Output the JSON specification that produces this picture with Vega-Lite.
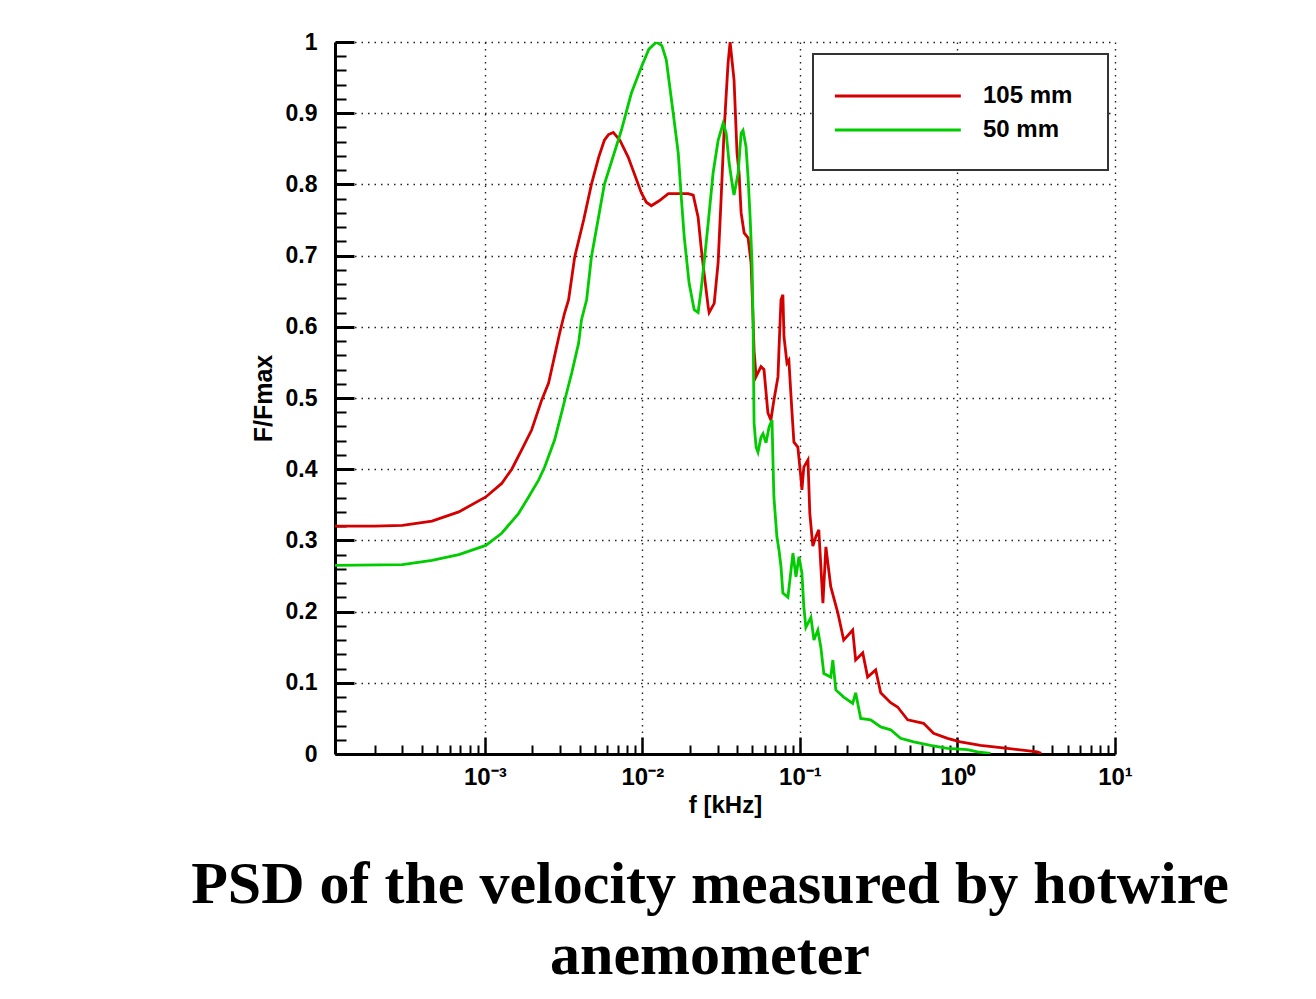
{
  "$schema": "https://vega.github.io/schema/vega-lite/v6.json",
  "width": 780,
  "height": 712,
  "autosize": "none",
  "padding": {"left": 335, "top": 42, "right": 201, "bottom": 245},
  "background": "white",
  "config": {"view": {"stroke": null}, "font": "Liberation Sans"},
  "title": {
    "text": ["PSD of the velocity measured by hotwire", "anemometer"],
    "orient": "bottom",
    "anchor": "middle",
    "font": "Liberation Serif",
    "fontSize": 60,
    "fontWeight": "bold",
    "color": "black",
    "lineHeight": 71,
    "offset": 39,
    "dx": -15
  },
  "datasets": {
    "psd": [
      {"series": "105 mm", "f": 0.000112, "v": 0.320},
      {"series": "105 mm", "f": 0.0002, "v": 0.320},
      {"series": "105 mm", "f": 0.0003, "v": 0.321},
      {"series": "105 mm", "f": 0.000462, "v": 0.327},
      {"series": "105 mm", "f": 0.000684, "v": 0.340},
      {"series": "105 mm", "f": 0.001015, "v": 0.361},
      {"series": "105 mm", "f": 0.00128, "v": 0.380},
      {"series": "105 mm", "f": 0.001483, "v": 0.400},
      {"series": "105 mm", "f": 0.001714, "v": 0.427},
      {"series": "105 mm", "f": 0.001982, "v": 0.455},
      {"series": "105 mm", "f": 0.002296, "v": 0.497},
      {"series": "105 mm", "f": 0.00254, "v": 0.521},
      {"series": "105 mm", "f": 0.002735, "v": 0.553},
      {"series": "105 mm", "f": 0.002985, "v": 0.591},
      {"series": "105 mm", "f": 0.003206, "v": 0.619},
      {"series": "105 mm", "f": 0.003404, "v": 0.638},
      {"series": "105 mm", "f": 0.00372, "v": 0.698},
      {"series": "105 mm", "f": 0.00424, "v": 0.750},
      {"series": "105 mm", "f": 0.00475, "v": 0.800},
      {"series": "105 mm", "f": 0.00528, "v": 0.838},
      {"series": "105 mm", "f": 0.00574, "v": 0.862},
      {"series": "105 mm", "f": 0.0061, "v": 0.870},
      {"series": "105 mm", "f": 0.00654, "v": 0.873},
      {"series": "105 mm", "f": 0.0072, "v": 0.862},
      {"series": "105 mm", "f": 0.00814, "v": 0.838},
      {"series": "105 mm", "f": 0.00986, "v": 0.788},
      {"series": "105 mm", "f": 0.0106, "v": 0.775},
      {"series": "105 mm", "f": 0.0114, "v": 0.770},
      {"series": "105 mm", "f": 0.0128, "v": 0.777},
      {"series": "105 mm", "f": 0.01462, "v": 0.787},
      {"series": "105 mm", "f": 0.01954, "v": 0.787},
      {"series": "105 mm", "f": 0.02104, "v": 0.785},
      {"series": "105 mm", "f": 0.02259, "v": 0.754},
      {"series": "105 mm", "f": 0.0236, "v": 0.712},
      {"series": "105 mm", "f": 0.02466, "v": 0.675},
      {"series": "105 mm", "f": 0.02618, "v": 0.628},
      {"series": "105 mm", "f": 0.02655, "v": 0.620},
      {"series": "105 mm", "f": 0.02858, "v": 0.633},
      {"series": "105 mm", "f": 0.03027, "v": 0.690},
      {"series": "105 mm", "f": 0.03162, "v": 0.780},
      {"series": "105 mm", "f": 0.03304, "v": 0.876},
      {"series": "105 mm", "f": 0.03499, "v": 0.970},
      {"series": "105 mm", "f": 0.03606, "v": 1.000},
      {"series": "105 mm", "f": 0.03819, "v": 0.947},
      {"series": "105 mm", "f": 0.0399, "v": 0.844},
      {"series": "105 mm", "f": 0.04111, "v": 0.816},
      {"series": "105 mm", "f": 0.04236, "v": 0.760},
      {"series": "105 mm", "f": 0.04426, "v": 0.732},
      {"series": "105 mm", "f": 0.04688, "v": 0.725},
      {"series": "105 mm", "f": 0.04898, "v": 0.690},
      {"series": "105 mm", "f": 0.05046, "v": 0.610},
      {"series": "105 mm", "f": 0.05117, "v": 0.567},
      {"series": "105 mm", "f": 0.05272, "v": 0.530},
      {"series": "105 mm", "f": 0.05662, "v": 0.544},
      {"series": "105 mm", "f": 0.05916, "v": 0.540},
      {"series": "105 mm", "f": 0.06266, "v": 0.479},
      {"series": "105 mm", "f": 0.06546, "v": 0.469},
      {"series": "105 mm", "f": 0.06839, "v": 0.497},
      {"series": "105 mm", "f": 0.07261, "v": 0.530},
      {"series": "105 mm", "f": 0.07362, "v": 0.567},
      {"series": "105 mm", "f": 0.07586, "v": 0.638},
      {"series": "105 mm", "f": 0.07798, "v": 0.645},
      {"series": "105 mm", "f": 0.07925, "v": 0.586},
      {"series": "105 mm", "f": 0.08279, "v": 0.549},
      {"series": "105 mm", "f": 0.08511, "v": 0.553},
      {"series": "105 mm", "f": 0.08892, "v": 0.483},
      {"series": "105 mm", "f": 0.09162, "v": 0.438},
      {"series": "105 mm", "f": 0.09705, "v": 0.431},
      {"series": "105 mm", "f": 0.1014, "v": 0.389},
      {"series": "105 mm", "f": 0.1030, "v": 0.371},
      {"series": "105 mm", "f": 0.1059, "v": 0.403},
      {"series": "105 mm", "f": 0.1125, "v": 0.413},
      {"series": "105 mm", "f": 0.1156, "v": 0.338},
      {"series": "105 mm", "f": 0.1208, "v": 0.292},
      {"series": "105 mm", "f": 0.1262, "v": 0.305},
      {"series": "105 mm", "f": 0.1318, "v": 0.315},
      {"series": "105 mm", "f": 0.1400, "v": 0.212},
      {"series": "105 mm", "f": 0.1462, "v": 0.291},
      {"series": "105 mm", "f": 0.1570, "v": 0.235},
      {"series": "105 mm", "f": 0.1742, "v": 0.198},
      {"series": "105 mm", "f": 0.1897, "v": 0.160},
      {"series": "105 mm", "f": 0.2163, "v": 0.174},
      {"series": "105 mm", "f": 0.2259, "v": 0.132},
      {"series": "105 mm", "f": 0.2506, "v": 0.142},
      {"series": "105 mm", "f": 0.2691, "v": 0.108},
      {"series": "105 mm", "f": 0.3027, "v": 0.118},
      {"series": "105 mm", "f": 0.3258, "v": 0.086},
      {"series": "105 mm", "f": 0.3767, "v": 0.072},
      {"series": "105 mm", "f": 0.4169, "v": 0.066},
      {"series": "105 mm", "f": 0.4830, "v": 0.048},
      {"series": "105 mm", "f": 0.6095, "v": 0.043},
      {"series": "105 mm", "f": 0.7047, "v": 0.029},
      {"series": "105 mm", "f": 0.8650, "v": 0.022},
      {"series": "105 mm", "f": 1.044, "v": 0.017},
      {"series": "105 mm", "f": 1.399, "v": 0.012},
      {"series": "105 mm", "f": 2.072, "v": 0.008},
      {"series": "105 mm", "f": 3.209, "v": 0.003},
      {"series": "105 mm", "f": 3.4, "v": 0.001},
      {"series": "50 mm", "f": 0.000112, "v": 0.265},
      {"series": "50 mm", "f": 0.0003, "v": 0.266},
      {"series": "50 mm", "f": 0.000462, "v": 0.272},
      {"series": "50 mm", "f": 0.000684, "v": 0.280},
      {"series": "50 mm", "f": 0.001015, "v": 0.293},
      {"series": "50 mm", "f": 0.00128, "v": 0.310},
      {"series": "50 mm", "f": 0.00164, "v": 0.338},
      {"series": "50 mm", "f": 0.001897, "v": 0.361},
      {"series": "50 mm", "f": 0.002198, "v": 0.385},
      {"series": "50 mm", "f": 0.002399, "v": 0.403},
      {"series": "50 mm", "f": 0.002773, "v": 0.441},
      {"series": "50 mm", "f": 0.00307, "v": 0.479},
      {"series": "50 mm", "f": 0.003304, "v": 0.507},
      {"series": "50 mm", "f": 0.00356, "v": 0.535},
      {"series": "50 mm", "f": 0.00394, "v": 0.577},
      {"series": "50 mm", "f": 0.00411, "v": 0.610},
      {"series": "50 mm", "f": 0.00443, "v": 0.638},
      {"series": "50 mm", "f": 0.00475, "v": 0.698},
      {"series": "50 mm", "f": 0.00574, "v": 0.800},
      {"series": "50 mm", "f": 0.00736, "v": 0.876},
      {"series": "50 mm", "f": 0.00851, "v": 0.928},
      {"series": "50 mm", "f": 0.00986, "v": 0.965},
      {"series": "50 mm", "f": 0.0110, "v": 0.990},
      {"series": "50 mm", "f": 0.01228, "v": 1.000},
      {"series": "50 mm", "f": 0.0133, "v": 0.995},
      {"series": "50 mm", "f": 0.01419, "v": 0.975},
      {"series": "50 mm", "f": 0.0157, "v": 0.900},
      {"series": "50 mm", "f": 0.0169, "v": 0.844},
      {"series": "50 mm", "f": 0.01766, "v": 0.782},
      {"series": "50 mm", "f": 0.01845, "v": 0.726},
      {"series": "50 mm", "f": 0.01981, "v": 0.661},
      {"series": "50 mm", "f": 0.02133, "v": 0.624},
      {"series": "50 mm", "f": 0.02259, "v": 0.620},
      {"series": "50 mm", "f": 0.0236, "v": 0.652},
      {"series": "50 mm", "f": 0.02466, "v": 0.690},
      {"series": "50 mm", "f": 0.02618, "v": 0.746},
      {"series": "50 mm", "f": 0.02812, "v": 0.816},
      {"series": "50 mm", "f": 0.03027, "v": 0.862},
      {"series": "50 mm", "f": 0.03258, "v": 0.886},
      {"series": "50 mm", "f": 0.03404, "v": 0.872},
      {"series": "50 mm", "f": 0.03556, "v": 0.830},
      {"series": "50 mm", "f": 0.03767, "v": 0.792},
      {"series": "50 mm", "f": 0.03819, "v": 0.785},
      {"series": "50 mm", "f": 0.04055, "v": 0.816},
      {"series": "50 mm", "f": 0.04236, "v": 0.872},
      {"series": "50 mm", "f": 0.04355, "v": 0.876},
      {"series": "50 mm", "f": 0.0455, "v": 0.853},
      {"series": "50 mm", "f": 0.04688, "v": 0.810},
      {"series": "50 mm", "f": 0.04831, "v": 0.754},
      {"series": "50 mm", "f": 0.04966, "v": 0.690},
      {"series": "50 mm", "f": 0.05046, "v": 0.605},
      {"series": "50 mm", "f": 0.05117, "v": 0.465},
      {"series": "50 mm", "f": 0.05272, "v": 0.431},
      {"series": "50 mm", "f": 0.0542, "v": 0.424},
      {"series": "50 mm", "f": 0.05662, "v": 0.445},
      {"series": "50 mm", "f": 0.05834, "v": 0.450},
      {"series": "50 mm", "f": 0.06095, "v": 0.437},
      {"series": "50 mm", "f": 0.06368, "v": 0.459},
      {"series": "50 mm", "f": 0.06653, "v": 0.469},
      {"series": "50 mm", "f": 0.06745, "v": 0.413},
      {"series": "50 mm", "f": 0.06839, "v": 0.361},
      {"series": "50 mm", "f": 0.07145, "v": 0.305},
      {"series": "50 mm", "f": 0.07362, "v": 0.287},
      {"series": "50 mm", "f": 0.07586, "v": 0.263},
      {"series": "50 mm", "f": 0.07798, "v": 0.226},
      {"series": "50 mm", "f": 0.08395, "v": 0.220},
      {"series": "50 mm", "f": 0.09036, "v": 0.282},
      {"series": "50 mm", "f": 0.09441, "v": 0.249},
      {"series": "50 mm", "f": 0.09863, "v": 0.277},
      {"series": "50 mm", "f": 0.1030, "v": 0.254},
      {"series": "50 mm", "f": 0.1059, "v": 0.207},
      {"series": "50 mm", "f": 0.1091, "v": 0.178},
      {"series": "50 mm", "f": 0.1175, "v": 0.192},
      {"series": "50 mm", "f": 0.1228, "v": 0.160},
      {"series": "50 mm", "f": 0.1300, "v": 0.174},
      {"series": "50 mm", "f": 0.1358, "v": 0.150},
      {"series": "50 mm", "f": 0.1419, "v": 0.113},
      {"series": "50 mm", "f": 0.1570, "v": 0.108},
      {"series": "50 mm", "f": 0.1618, "v": 0.132},
      {"series": "50 mm", "f": 0.1690, "v": 0.090},
      {"series": "50 mm", "f": 0.1897, "v": 0.080},
      {"series": "50 mm", "f": 0.2163, "v": 0.071},
      {"series": "50 mm", "f": 0.2259, "v": 0.086},
      {"series": "50 mm", "f": 0.2432, "v": 0.050},
      {"series": "50 mm", "f": 0.2812, "v": 0.048},
      {"series": "50 mm", "f": 0.3258, "v": 0.038},
      {"series": "50 mm", "f": 0.3767, "v": 0.034},
      {"series": "50 mm", "f": 0.4355, "v": 0.022},
      {"series": "50 mm", "f": 0.5272, "v": 0.017},
      {"series": "50 mm", "f": 0.6745, "v": 0.012},
      {"series": "50 mm", "f": 0.8650, "v": 0.008},
      {"series": "50 mm", "f": 1.157, "v": 0.006},
      {"series": "50 mm", "f": 1.340, "v": 0.003},
      {"series": "50 mm", "f": 1.62, "v": 0.001}
    ]
  },
  "data": {"name": "psd"},
  "layer": [
    {
      "mark": {"type": "line", "strokeWidth": 2.8, "clip": true},
      "encoding": {
        "x": {
          "field": "f",
          "type": "quantitative",
          "scale": {"type": "log", "domain": [0.000112, 10], "nice": false},
          "axis": {
            "orient": "bottom",
            "values": [0.001, 0.01, 0.1, 1, 10],
            "labelExpr": "datum.value < 0.005 ? '10\u207b\u00b3' : datum.value < 0.05 ? '10\u207b\u00b2' : datum.value < 0.5 ? '10\u207b\u00b9' : datum.value < 5 ? '10\u2070' : '10\u00b9'",
            "title": "f [kHz]",
            "grid": true,
            "gridDash": [1.5, 5],
            "gridColor": "#222",
            "gridWidth": 1.4,
            "tickSize": -17,
            "tickWidth": 2.5,
            "tickColor": "black",
            "domainColor": "black",
            "domainWidth": 3,
            "labelFont": "Liberation Sans",
            "labelFontSize": 24,
            "labelFontWeight": "bold",
            "labelColor": "black",
            "labelPadding": 28,
            "labelBaseline": "top",
            "labelFlush": false,
            "labelOverlap": false,
            "titleFont": "Liberation Sans",
            "titleFontSize": 24,
            "titleFontWeight": "bold",
            "titleColor": "black",
            "titlePadding": 4
          }
        },
        "y": {
          "field": "v",
          "type": "quantitative",
          "scale": {"domain": [0, 1], "nice": false},
          "axis": {
            "orient": "left",
            "values": [0, 0.1, 0.2, 0.3, 0.4, 0.5, 0.6, 0.7, 0.8, 0.9, 1],
            "labelExpr": "datum.value == 0 ? '0' : datum.value == 1 ? '1' : format(datum.value, '.1f')",
            "title": "F/Fmax",
            "grid": true,
            "gridDash": [1.5, 5],
            "gridColor": "#222",
            "gridWidth": 1.4,
            "tickSize": -19,
            "tickWidth": 3,
            "tickColor": "black",
            "domainColor": "black",
            "domainWidth": 3,
            "labelFont": "Liberation Sans",
            "labelFontSize": 23,
            "labelFontWeight": "bold",
            "labelColor": "black",
            "labelPadding": 37,
            "labelFlush": false,
            "labelOverlap": false,
            "titleFont": "Liberation Sans",
            "titleFontSize": 25,
            "titleFontWeight": "bold",
            "titleColor": "black",
            "titlePadding": 9
          }
        },
        "color": {
          "field": "series",
          "type": "nominal",
          "scale": {"domain": ["105 mm", "50 mm"], "range": ["#d40000", "#00cc00"]},
          "legend": {
            "orient": "none",
            "legendX": 478,
            "legendY": 12,
            "title": null,
            "symbolType": "M-1.6,0H8.4",
            "symbolSize": 635,
            "symbolStrokeWidth": 2.8,
            "labelFont": "Liberation Sans",
            "labelFontSize": 24,
            "labelFontWeight": "bold",
            "labelColor": "black",
            "labelOffset": 114,
            "padding": 28,
            "rowPadding": 8,
            "strokeColor": "#333",
            "fillColor": "white",
            "labelExpr": "datum.label + '\u00a0\u200b'",
            "encode": {"legend": {"update": {"strokeWidth": {"value": 2}}}}
          }
        }
      }
    },
    {
      "mark": {"type": "line", "opacity": 0},
      "encoding": {
        "x": {
          "field": "f",
          "type": "quantitative",
          "axis": {
            "orient": "bottom",
            "values": [0.0002, 0.0003, 0.0004, 0.0005, 0.0006, 0.0007, 0.0008, 0.0009, 0.002, 0.003, 0.004, 0.005, 0.006, 0.007, 0.008, 0.009, 0.02, 0.03, 0.04, 0.05, 0.06, 0.07, 0.08, 0.09, 0.2, 0.3, 0.4, 0.5, 0.6, 0.7, 0.8, 0.9, 2, 3, 4, 5, 6, 7, 8, 9],
            "labels": false,
            "title": null,
            "grid": false,
            "domain": false,
            "tickSize": -9,
            "tickWidth": 2,
            "tickColor": "black"
          }
        },
        "y": {
          "field": "v",
          "type": "quantitative",
          "axis": {
            "orient": "left",
            "values": [0.02, 0.04, 0.06, 0.08, 0.12, 0.14, 0.16, 0.18, 0.22, 0.24, 0.26, 0.28, 0.32, 0.34, 0.36, 0.38, 0.42, 0.44, 0.46, 0.48, 0.52, 0.54, 0.56, 0.58, 0.62, 0.64, 0.66, 0.68, 0.72, 0.74, 0.76, 0.78, 0.82, 0.84, 0.86, 0.88, 0.92, 0.94, 0.96, 0.98],
            "labels": false,
            "title": null,
            "grid": false,
            "domain": false,
            "tickSize": -11,
            "tickWidth": 2,
            "tickColor": "black"
          }
        }
      }
    }
  ],
  "resolve": {"axis": {"x": "independent", "y": "independent"}}
}
